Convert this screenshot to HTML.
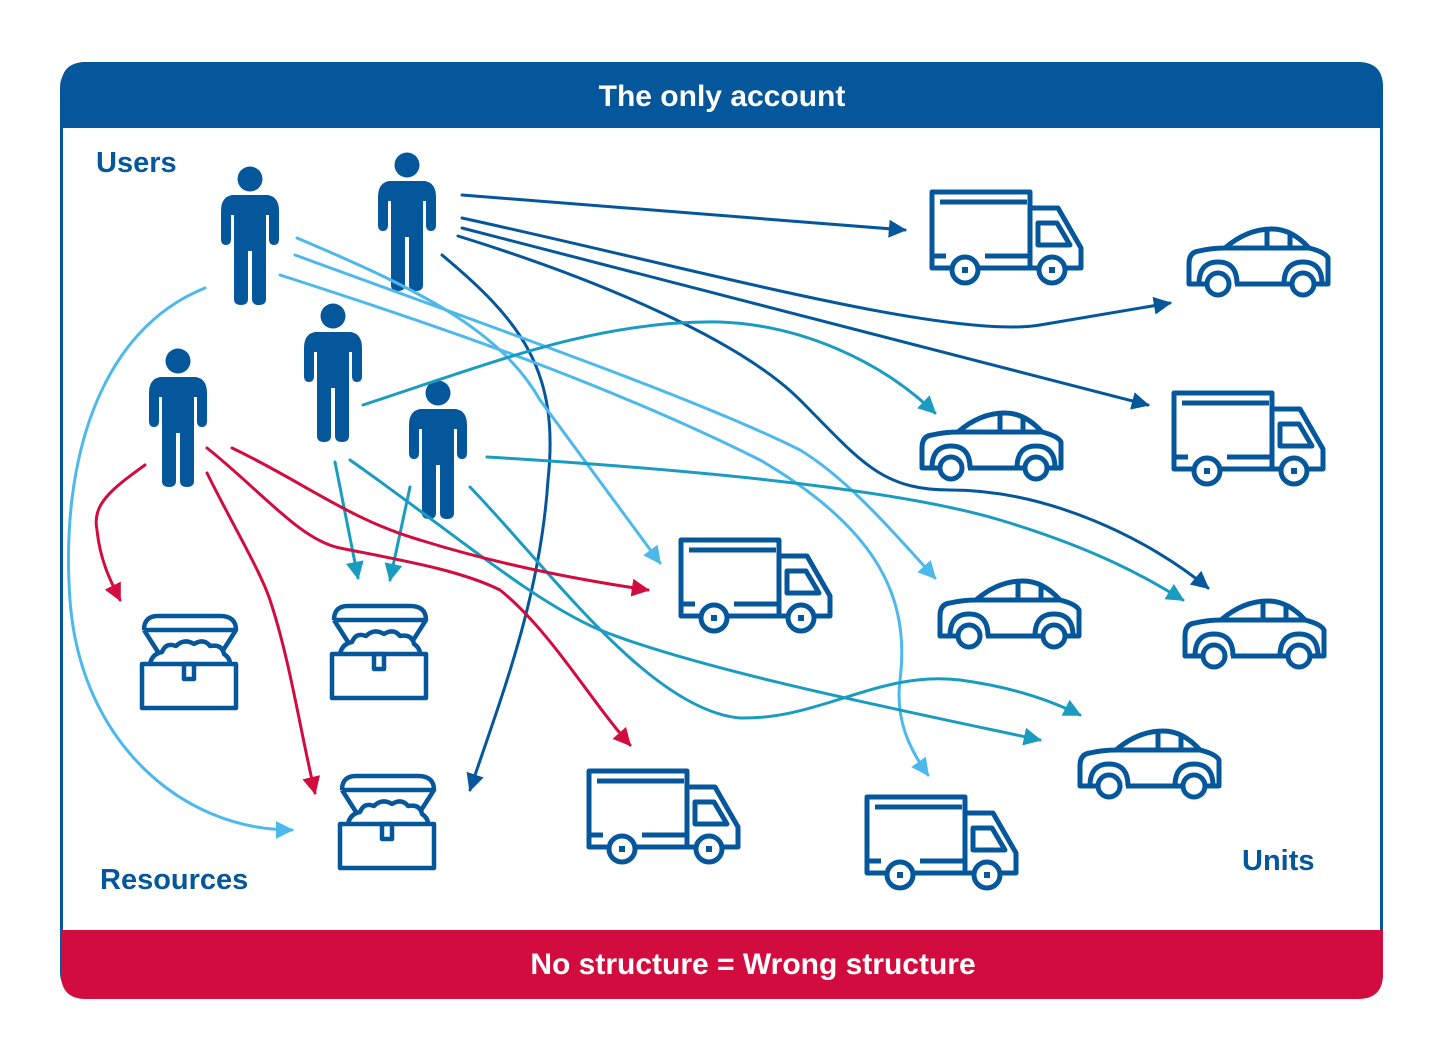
<!DOCTYPE html>
<html><head><meta charset="utf-8"><style>
html,body{margin:0;padding:0;background:#fff;}
svg{display:block;}
text{font-family:"Liberation Sans",Arial,sans-serif;font-weight:bold;}
</style></head><body>
<svg width="1455" height="1052" viewBox="0 0 1455 1052" xmlns="http://www.w3.org/2000/svg">
<defs>
<marker id="mD" viewBox="0 0 10 10" refX="9" refY="5" markerWidth="6" markerHeight="6" orient="auto" markerUnits="strokeWidth"><path d="M0,0 L10,5 L0,10 Z" fill="#05579b"/></marker>
<marker id="mL" viewBox="0 0 10 10" refX="9" refY="5" markerWidth="6" markerHeight="6" orient="auto" markerUnits="strokeWidth"><path d="M0,0 L10,5 L0,10 Z" fill="#4cb8ec"/></marker>
<marker id="mT" viewBox="0 0 10 10" refX="9" refY="5" markerWidth="6" markerHeight="6" orient="auto" markerUnits="strokeWidth"><path d="M0,0 L10,5 L0,10 Z" fill="#1a9cc0"/></marker>
<marker id="mR" viewBox="0 0 10 10" refX="9" refY="5" markerWidth="6" markerHeight="6" orient="auto" markerUnits="strokeWidth"><path d="M0,0 L10,5 L0,10 Z" fill="#d20c3e"/></marker>
<symbol id="person" overflow="visible">
  <circle cx="0" cy="0" r="12.5" fill="#05579b"/>
  <path d="M-18,16 H18 Q29,18 29,32 V60 Q29,66 24,66 Q19,66 19,60 V36 H16 V120 Q16,126 9,126 Q2,126 2,120 V72 H-2 V120 Q-2,126 -9,126 Q-16,126 -16,120 V36 H-19 V60 Q-19,66 -24,66 Q-29,66 -29,60 V32 Q-29,18 -18,16 Z" fill="#05579b"/>
</symbol>
<symbol id="truck" overflow="visible">
  <g fill="none" stroke="#05579b" stroke-width="5" stroke-linejoin="round">
    <path d="M20,78 H2 V2 H100 V78 H48"/>
    <line x1="10" y1="12" x2="97" y2="12"/>
    <path d="M100,18 H128 L151,58 V78 H135"/>
    <line x1="100" y1="78" x2="108" y2="78"/>
    <path d="M108,33 H127 L140,55 H108 Z"/>
    <line x1="2" y1="66" x2="16" y2="66"/>
    <line x1="55" y1="66" x2="100" y2="66"/>
    <circle cx="35" cy="80" r="13"/>
    <circle cx="122" cy="80" r="13"/>
  </g>
  <rect x="32" y="77" width="6" height="6" fill="#05579b"/>
  <rect x="119" y="77" width="6" height="6" fill="#05579b"/>
</symbol>
<symbol id="car" overflow="visible">
  <g fill="none" stroke="#05579b" stroke-width="5" stroke-linejoin="round">
    <path d="M20,58 H2 V38 Q2,26 12,25 Q25,22 38,22 Q60,3 85,3 Q105,3 122,22 Q138,26 141,32 V58 H128"/>
    <path d="M48,58 H105"/>
    <line x1="38" y1="22" x2="122" y2="22"/>
    <line x1="80" y1="4" x2="80" y2="22"/>
    <line x1="103" y1="8" x2="103" y2="22"/>
    <path d="M12,58 Q12,36 31,36 Q50,36 50,58"/>
    <path d="M97,58 Q97,36 116,36 Q135,36 135,58"/>
    <circle cx="31" cy="58" r="11"/>
    <circle cx="116" cy="58" r="11"/>
  </g>
</symbol>
<symbol id="chest" overflow="visible">
  <g fill="none" stroke="#05579b" stroke-width="4.5" stroke-linejoin="round">
    <rect x="2" y="52" width="94" height="44"/>
    <path d="M4,18 Q4,4 18,4 H80 Q96,4 96,18 L82,40"/>
    <line x1="4" y1="18" x2="96" y2="18"/>
    <path d="M4,18 L18,40"/>
    <path d="M10,52 Q12,42 22,40 Q26,30 36,34 Q44,26 54,32 Q64,26 70,34 Q82,32 84,42 Q90,46 90,52"/>
    <rect x="44" y="52" width="10" height="15"/>
  </g>
</symbol>
</defs>

<!-- frame -->
<rect x="61.5" y="63.5" width="1320" height="933" rx="24" fill="#fff" stroke="#05579b" stroke-width="3"/>
<path d="M61,128 V87 Q61,62 86,62 H1358 Q1383,62 1383,87 V128 Z" fill="#05579b"/>
<path d="M61,930 V974 Q61,999 86,999 H1358 Q1383,999 1383,974 V930 Z" fill="#d20c3e"/>
<text x="722" y="106" fill="#fff" font-size="30" text-anchor="middle">The only account</text>
<text x="753" y="974" fill="#fff" font-size="30" text-anchor="middle">No structure = Wrong structure</text>
<text x="96" y="172" fill="#05579b" font-size="29">Users</text>
<text x="100" y="889" fill="#05579b" font-size="29">Resources</text>
<text x="1242" y="870" fill="#05579b" font-size="29">Units</text>

<!-- icons -->
<use href="#person" x="250" y="179"/>
<use href="#person" x="407" y="165"/>
<use href="#person" x="333" y="316"/>
<use href="#person" x="178" y="361"/>
<use href="#person" x="438" y="393"/>

<use href="#truck" x="930" y="190"/>
<use href="#truck" x="1172" y="391"/>
<use href="#truck" x="679" y="538"/>
<use href="#truck" x="587" y="769"/>
<use href="#truck" x="865" y="795"/>

<use href="#car" x="1187" y="226"/>
<use href="#car" x="920" y="410"/>
<use href="#car" x="938" y="578"/>
<use href="#car" x="1183" y="598"/>
<use href="#car" x="1078" y="728"/>

<use href="#chest" x="140" y="612"/>
<use href="#chest" x="330" y="602"/>
<use href="#chest" x="338" y="772"/>

<g fill="none" stroke-width="3" stroke-linecap="round">
<!-- dark blue -->
<g stroke="#05579b" marker-end="url(#mD)">
<path d="M462,195 L905,230"/>
<path d="M462,218 C700,270 950,340 1040,325 L1170,303"/>
<path d="M462,228 L1148,405"/>
<path d="M458,236 C600,280 740,340 800,400 S880,490 950,490 C1050,490 1150,540 1208,588"/>
<path d="M442,255 C520,320 560,370 548,480 C540,600 500,700 470,790"/>
</g>
<!-- light blue -->
<g stroke="#4cb8ec" marker-end="url(#mL)">
<path d="M205,288 C100,330 60,460 70,600 C80,740 180,830 292,830"/>
<path d="M297,238 C420,290 500,330 540,400 L660,563"/>
<path d="M295,255 C500,330 700,400 800,450 C850,480 900,540 935,578"/>
<path d="M280,275 C420,320 600,380 760,460 C880,530 910,600 900,680 C895,720 910,750 928,775"/>
</g>
<!-- teal -->
<g stroke="#1a9cc0" marker-end="url(#mT)">
<path d="M363,405 C500,360 600,320 720,322 C800,325 880,360 935,413"/>
<path d="M487,457 C700,470 900,490 1000,520 C1100,550 1150,580 1183,600"/>
<path d="M335,462 L358,578"/>
<path d="M410,487 L390,580"/>
<path d="M350,460 C450,530 530,600 600,630 C700,670 900,710 1040,740"/>
<path d="M470,487 C550,570 650,710 740,718 C820,720 880,670 960,680 C1020,688 1060,705 1080,715"/>
</g>
<!-- red -->
<g stroke="#d20c3e" marker-end="url(#mR)">
<path d="M145,465 C110,490 92,505 97,530 C100,560 110,580 120,600"/>
<path d="M207,473 C230,520 260,570 270,600 C290,660 300,730 315,793"/>
<path d="M207,448 C260,490 300,540 340,548 C400,560 460,570 500,590 C550,630 590,700 630,745"/>
<path d="M232,448 C300,480 350,520 420,540 C500,565 580,580 648,590"/>
</g>
</g>
</svg>
</body></html>
